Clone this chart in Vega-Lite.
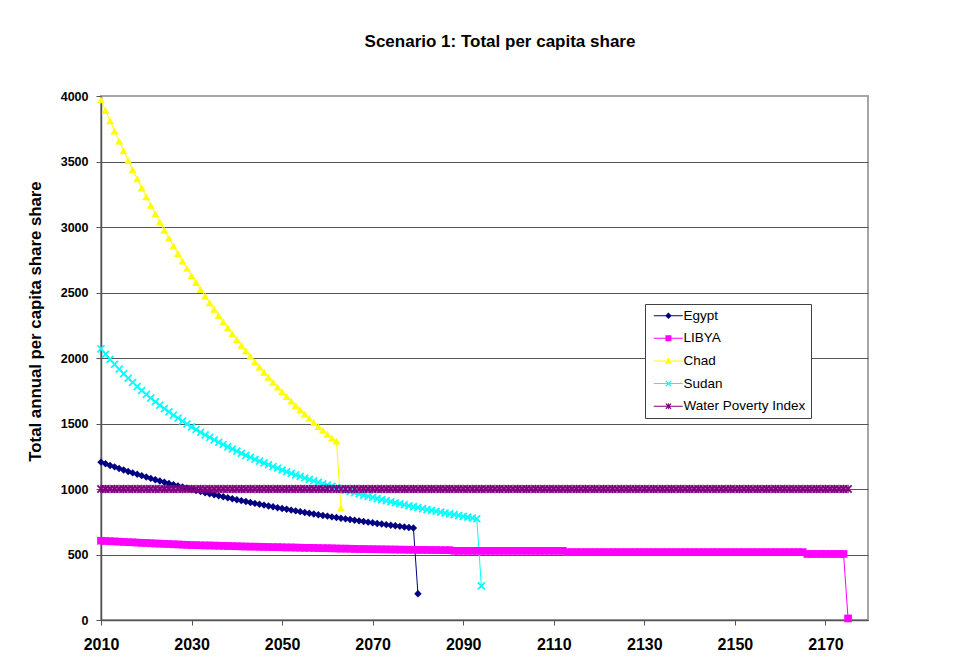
{
  "$schema": "https://vega.github.io/schema/vega-lite/v6.json",
  "width": 767,
  "height": 524,
  "autosize": {"type": "none"},
  "padding": {"left": 101, "top": 96, "right": 108, "bottom": 44},
  "background": "white",
  "title": {"text": "Scenario 1: Total per capita share", "anchor": "middle", "frame": "group", "dx": 15.5, "offset": 26, "baseline": "alphabetic", "font": "Liberation Sans", "fontSize": 17, "fontWeight": "bold", "color": "black"},
  "data": {"values": [
    {"year":2010,"Egypt":1205,"LIBYA":605,"Chad":3970,"Sudan":2070,"WPI":1000},
    {"year":2011,"Egypt":1193,"LIBYA":603,"Chad":3889,"Sudan":2029,"WPI":1000},
    {"year":2012,"Egypt":1180,"LIBYA":601,"Chad":3810,"Sudan":1990,"WPI":1000},
    {"year":2013,"Egypt":1169,"LIBYA":600,"Chad":3732,"Sudan":1952,"WPI":1000},
    {"year":2014,"Egypt":1157,"LIBYA":598,"Chad":3656,"Sudan":1915,"WPI":1000},
    {"year":2015,"Egypt":1145,"LIBYA":596,"Chad":3582,"Sudan":1880,"WPI":1000},
    {"year":2016,"Egypt":1134,"LIBYA":594,"Chad":3508,"Sudan":1846,"WPI":1000},
    {"year":2017,"Egypt":1123,"LIBYA":593,"Chad":3437,"Sudan":1814,"WPI":1000},
    {"year":2018,"Egypt":1112,"LIBYA":591,"Chad":3367,"Sudan":1782,"WPI":1000},
    {"year":2019,"Egypt":1102,"LIBYA":589,"Chad":3298,"Sudan":1752,"WPI":1000},
    {"year":2020,"Egypt":1091,"LIBYA":588,"Chad":3231,"Sudan":1722,"WPI":1000},
    {"year":2021,"Egypt":1081,"LIBYA":586,"Chad":3165,"Sudan":1694,"WPI":1000},
    {"year":2022,"Egypt":1071,"LIBYA":584,"Chad":3101,"Sudan":1666,"WPI":1000},
    {"year":2023,"Egypt":1061,"LIBYA":583,"Chad":3037,"Sudan":1640,"WPI":1000},
    {"year":2024,"Egypt":1052,"LIBYA":581,"Chad":2975,"Sudan":1614,"WPI":1000},
    {"year":2025,"Egypt":1042,"LIBYA":580,"Chad":2915,"Sudan":1589,"WPI":1000},
    {"year":2026,"Egypt":1033,"LIBYA":578,"Chad":2855,"Sudan":1564,"WPI":1000},
    {"year":2027,"Egypt":1024,"LIBYA":577,"Chad":2797,"Sudan":1541,"WPI":1000},
    {"year":2028,"Egypt":1015,"LIBYA":575,"Chad":2740,"Sudan":1518,"WPI":1000},
    {"year":2029,"Egypt":1006,"LIBYA":574,"Chad":2684,"Sudan":1496,"WPI":1000},
    {"year":2030,"Egypt":998,"LIBYA":572,"Chad":2629,"Sudan":1474,"WPI":1000},
    {"year":2031,"Egypt":989,"LIBYA":571,"Chad":2576,"Sudan":1454,"WPI":1000},
    {"year":2032,"Egypt":981,"LIBYA":570,"Chad":2523,"Sudan":1433,"WPI":1000},
    {"year":2033,"Egypt":972,"LIBYA":569,"Chad":2472,"Sudan":1413,"WPI":1000},
    {"year":2034,"Egypt":964,"LIBYA":569,"Chad":2421,"Sudan":1394,"WPI":1000},
    {"year":2035,"Egypt":956,"LIBYA":568,"Chad":2372,"Sudan":1375,"WPI":1000},
    {"year":2036,"Egypt":949,"LIBYA":567,"Chad":2324,"Sudan":1357,"WPI":1000},
    {"year":2037,"Egypt":941,"LIBYA":566,"Chad":2276,"Sudan":1340,"WPI":1000},
    {"year":2038,"Egypt":933,"LIBYA":565,"Chad":2230,"Sudan":1322,"WPI":1000},
    {"year":2039,"Egypt":926,"LIBYA":564,"Chad":2184,"Sudan":1305,"WPI":1000},
    {"year":2040,"Egypt":918,"LIBYA":563,"Chad":2140,"Sudan":1289,"WPI":1000},
    {"year":2041,"Egypt":911,"LIBYA":562,"Chad":2096,"Sudan":1273,"WPI":1000},
    {"year":2042,"Egypt":904,"LIBYA":561,"Chad":2054,"Sudan":1257,"WPI":1000},
    {"year":2043,"Egypt":897,"LIBYA":560,"Chad":2012,"Sudan":1242,"WPI":1000},
    {"year":2044,"Egypt":890,"LIBYA":560,"Chad":1971,"Sudan":1227,"WPI":1000},
    {"year":2045,"Egypt":883,"LIBYA":559,"Chad":1930,"Sudan":1213,"WPI":1000},
    {"year":2046,"Egypt":877,"LIBYA":558,"Chad":1891,"Sudan":1199,"WPI":1000},
    {"year":2047,"Egypt":870,"LIBYA":557,"Chad":1853,"Sudan":1185,"WPI":1000},
    {"year":2048,"Egypt":864,"LIBYA":556,"Chad":1815,"Sudan":1171,"WPI":1000},
    {"year":2049,"Egypt":857,"LIBYA":556,"Chad":1778,"Sudan":1158,"WPI":1000},
    {"year":2050,"Egypt":851,"LIBYA":555,"Chad":1742,"Sudan":1145,"WPI":1000},
    {"year":2051,"Egypt":845,"LIBYA":554,"Chad":1706,"Sudan":1132,"WPI":1000},
    {"year":2052,"Egypt":839,"LIBYA":554,"Chad":1671,"Sudan":1120,"WPI":1000},
    {"year":2053,"Egypt":833,"LIBYA":553,"Chad":1637,"Sudan":1108,"WPI":1000},
    {"year":2054,"Egypt":827,"LIBYA":552,"Chad":1604,"Sudan":1096,"WPI":1000},
    {"year":2055,"Egypt":821,"LIBYA":551,"Chad":1571,"Sudan":1084,"WPI":1000},
    {"year":2056,"Egypt":815,"LIBYA":551,"Chad":1539,"Sudan":1073,"WPI":1000},
    {"year":2057,"Egypt":809,"LIBYA":550,"Chad":1508,"Sudan":1062,"WPI":1000},
    {"year":2058,"Egypt":804,"LIBYA":549,"Chad":1477,"Sudan":1051,"WPI":1000},
    {"year":2059,"Egypt":798,"LIBYA":548,"Chad":1447,"Sudan":1040,"WPI":1000},
    {"year":2060,"Egypt":793,"LIBYA":548,"Chad":1417,"Sudan":1030,"WPI":1000},
    {"year":2061,"Egypt":787,"LIBYA":547,"Chad":1388,"Sudan":1020,"WPI":1000},
    {"year":2062,"Egypt":782,"LIBYA":546,"Chad":1365,"Sudan":1010,"WPI":1000},
    {"year":2063,"Egypt":777,"LIBYA":545,"Chad":855,"Sudan":1000,"WPI":1000},
    {"year":2064,"Egypt":772,"LIBYA":545,"Sudan":990,"WPI":1000},
    {"year":2065,"Egypt":767,"LIBYA":544,"Sudan":981,"WPI":1000},
    {"year":2066,"Egypt":762,"LIBYA":543,"Sudan":971,"WPI":1000},
    {"year":2067,"Egypt":757,"LIBYA":542,"Sudan":962,"WPI":1000},
    {"year":2068,"Egypt":752,"LIBYA":542,"Sudan":953,"WPI":1000},
    {"year":2069,"Egypt":747,"LIBYA":541,"Sudan":944,"WPI":1000},
    {"year":2070,"Egypt":742,"LIBYA":540,"Sudan":936,"WPI":1000},
    {"year":2071,"Egypt":737,"LIBYA":540,"Sudan":927,"WPI":1000},
    {"year":2072,"Egypt":733,"LIBYA":539,"Sudan":919,"WPI":1000},
    {"year":2073,"Egypt":728,"LIBYA":539,"Sudan":911,"WPI":1000},
    {"year":2074,"Egypt":723,"LIBYA":538,"Sudan":903,"WPI":1000},
    {"year":2075,"Egypt":719,"LIBYA":538,"Sudan":895,"WPI":1000},
    {"year":2076,"Egypt":715,"LIBYA":537,"Sudan":887,"WPI":1000},
    {"year":2077,"Egypt":710,"LIBYA":537,"Sudan":880,"WPI":1000},
    {"year":2078,"Egypt":706,"LIBYA":536,"Sudan":872,"WPI":1000},
    {"year":2079,"Egypt":702,"LIBYA":536,"Sudan":865,"WPI":1000},
    {"year":2080,"Egypt":200,"LIBYA":535,"Sudan":858,"WPI":1000},
    {"year":2081,"LIBYA":535,"Sudan":850,"WPI":1000},
    {"year":2082,"LIBYA":535,"Sudan":843,"WPI":1000},
    {"year":2083,"LIBYA":534,"Sudan":837,"WPI":1000},
    {"year":2084,"LIBYA":534,"Sudan":830,"WPI":1000},
    {"year":2085,"LIBYA":533,"Sudan":823,"WPI":1000},
    {"year":2086,"LIBYA":533,"Sudan":817,"WPI":1000},
    {"year":2087,"LIBYA":533,"Sudan":810,"WPI":1000},
    {"year":2088,"LIBYA":528,"Sudan":804,"WPI":1000},
    {"year":2089,"LIBYA":528,"Sudan":797,"WPI":1000},
    {"year":2090,"LIBYA":528,"Sudan":791,"WPI":1000},
    {"year":2091,"LIBYA":528,"Sudan":785,"WPI":1000},
    {"year":2092,"LIBYA":528,"Sudan":779,"WPI":1000},
    {"year":2093,"LIBYA":528,"Sudan":773,"WPI":1000},
    {"year":2094,"LIBYA":528,"Sudan":260,"WPI":1000},
    {"year":2095,"LIBYA":528,"WPI":1000},
    {"year":2096,"LIBYA":528,"WPI":1000},
    {"year":2097,"LIBYA":528,"WPI":1000},
    {"year":2098,"LIBYA":528,"WPI":1000},
    {"year":2099,"LIBYA":528,"WPI":1000},
    {"year":2100,"LIBYA":528,"WPI":1000},
    {"year":2101,"LIBYA":528,"WPI":1000},
    {"year":2102,"LIBYA":528,"WPI":1000},
    {"year":2103,"LIBYA":528,"WPI":1000},
    {"year":2104,"LIBYA":528,"WPI":1000},
    {"year":2105,"LIBYA":528,"WPI":1000},
    {"year":2106,"LIBYA":528,"WPI":1000},
    {"year":2107,"LIBYA":528,"WPI":1000},
    {"year":2108,"LIBYA":528,"WPI":1000},
    {"year":2109,"LIBYA":528,"WPI":1000},
    {"year":2110,"LIBYA":528,"WPI":1000},
    {"year":2111,"LIBYA":528,"WPI":1000},
    {"year":2112,"LIBYA":528,"WPI":1000},
    {"year":2113,"LIBYA":518,"WPI":1000},
    {"year":2114,"LIBYA":518,"WPI":1000},
    {"year":2115,"LIBYA":518,"WPI":1000},
    {"year":2116,"LIBYA":518,"WPI":1000},
    {"year":2117,"LIBYA":518,"WPI":1000},
    {"year":2118,"LIBYA":518,"WPI":1000},
    {"year":2119,"LIBYA":518,"WPI":1000},
    {"year":2120,"LIBYA":518,"WPI":1000},
    {"year":2121,"LIBYA":518,"WPI":1000},
    {"year":2122,"LIBYA":518,"WPI":1000},
    {"year":2123,"LIBYA":518,"WPI":1000},
    {"year":2124,"LIBYA":518,"WPI":1000},
    {"year":2125,"LIBYA":518,"WPI":1000},
    {"year":2126,"LIBYA":518,"WPI":1000},
    {"year":2127,"LIBYA":518,"WPI":1000},
    {"year":2128,"LIBYA":518,"WPI":1000},
    {"year":2129,"LIBYA":518,"WPI":1000},
    {"year":2130,"LIBYA":518,"WPI":1000},
    {"year":2131,"LIBYA":518,"WPI":1000},
    {"year":2132,"LIBYA":518,"WPI":1000},
    {"year":2133,"LIBYA":518,"WPI":1000},
    {"year":2134,"LIBYA":518,"WPI":1000},
    {"year":2135,"LIBYA":518,"WPI":1000},
    {"year":2136,"LIBYA":518,"WPI":1000},
    {"year":2137,"LIBYA":518,"WPI":1000},
    {"year":2138,"LIBYA":518,"WPI":1000},
    {"year":2139,"LIBYA":518,"WPI":1000},
    {"year":2140,"LIBYA":518,"WPI":1000},
    {"year":2141,"LIBYA":518,"WPI":1000},
    {"year":2142,"LIBYA":518,"WPI":1000},
    {"year":2143,"LIBYA":518,"WPI":1000},
    {"year":2144,"LIBYA":518,"WPI":1000},
    {"year":2145,"LIBYA":518,"WPI":1000},
    {"year":2146,"LIBYA":518,"WPI":1000},
    {"year":2147,"LIBYA":518,"WPI":1000},
    {"year":2148,"LIBYA":518,"WPI":1000},
    {"year":2149,"LIBYA":518,"WPI":1000},
    {"year":2150,"LIBYA":518,"WPI":1000},
    {"year":2151,"LIBYA":518,"WPI":1000},
    {"year":2152,"LIBYA":518,"WPI":1000},
    {"year":2153,"LIBYA":518,"WPI":1000},
    {"year":2154,"LIBYA":518,"WPI":1000},
    {"year":2155,"LIBYA":518,"WPI":1000},
    {"year":2156,"LIBYA":518,"WPI":1000},
    {"year":2157,"LIBYA":518,"WPI":1000},
    {"year":2158,"LIBYA":518,"WPI":1000},
    {"year":2159,"LIBYA":518,"WPI":1000},
    {"year":2160,"LIBYA":518,"WPI":1000},
    {"year":2161,"LIBYA":518,"WPI":1000},
    {"year":2162,"LIBYA":518,"WPI":1000},
    {"year":2163,"LIBYA":518,"WPI":1000},
    {"year":2164,"LIBYA":518,"WPI":1000},
    {"year":2165,"LIBYA":518,"WPI":1000},
    {"year":2166,"LIBYA":504,"WPI":1000},
    {"year":2167,"LIBYA":504,"WPI":1000},
    {"year":2168,"LIBYA":504,"WPI":1000},
    {"year":2169,"LIBYA":504,"WPI":1000},
    {"year":2170,"LIBYA":504,"WPI":1000},
    {"year":2171,"LIBYA":504,"WPI":1000},
    {"year":2172,"LIBYA":504,"WPI":1000},
    {"year":2173,"LIBYA":504,"WPI":1000},
    {"year":2174,"LIBYA":504,"WPI":1000},
    {"year":2175,"LIBYA":12,"WPI":1000}
  ]},
  "transform": [
    {"fold": ["Egypt", "LIBYA", "Chad", "Sudan", "WPI"], "as": ["series", "value"]},
    {"filter": "isValid(datum.value)"}
  ],
  "encoding": {
    "x": {"field": "year", "type": "quantitative",
      "scale": {"domain": [2010, 2179.4], "nice": false, "zero": false},
      "axis": {"values": [2010, 2030, 2050, 2070, 2090, 2110, 2130, 2150, 2170], "format": "d", "title": null, "grid": false,
        "labelFont": "Liberation Sans", "labelFontSize": 16, "labelFontWeight": "bold", "labelColor": "black", "labelPadding": 11,
        "labelFlush": false, "labelOverlap": false, "tickSize": 5, "tickColor": "#555555", "domainColor": "#555555", "domainWidth": 1.5}},
    "y": {"field": "value", "type": "quantitative",
      "scale": {"domain": [0, 4000], "nice": false},
      "axis": {"values": [0, 500, 1000, 1500, 2000, 2500, 3000, 3500, 4000], "format": "d",
        "title": "Total annual per capita share share", "titleFont": "Liberation Sans", "titleFontSize": 16.8, "titleFontWeight": "bold", "titleColor": "black",
        "titleX": -66, "titleY": 225, "titleAngle": -90, "titleAlign": "center", "titleBaseline": "middle",
        "labelFont": "Liberation Sans", "labelFontSize": 12.5, "labelFontWeight": "bold", "labelColor": "black", "labelPadding": 8,
        "tickSize": 5, "tickColor": "#555555", "domainColor": "#555555", "domainWidth": 1.5,
        "grid": true, "gridColor": {"condition": {"test": "datum.value === 4000", "value": "#a6a6a6"}, "value": "#555555"}, "gridWidth": 1}}
  },
  "layer": [
    {"mark": {"type": "line", "strokeWidth": 1},
      "encoding": {
        "color": {"field": "series", "type": "nominal",
          "scale": {"domain": ["Egypt", "LIBYA", "Chad", "Sudan", "WPI"], "range": ["#000080", "#FF00FF", "#FFFF00", "#00FFFF", "#800080"]},
          "legend": null}
      }},
    {"mark": {"type": "point", "filled": true, "opacity": 1, "strokeWidth": 0},
      "encoding": {
        "color": {"field": "series", "type": "nominal",
          "scale": {"domain": ["Egypt", "LIBYA", "Chad", "Sudan", "WPI"], "range": ["#000080", "#FF00FF", "#FFFF00", "#00FFFF", "#800080"]},
          "legend": null},
        "shape": {"field": "series", "type": "nominal",
          "scale": {"domain": ["Egypt", "LIBYA", "Chad", "Sudan", "WPI"],
            "range": ["diamond", "square", "triangle-up", "M-1,-0.7L-0.7,-1L0,-0.3L0.7,-1L1,-0.7L0.3,0L1,0.7L0.7,1L0,0.3L-0.7,1L-1,0.7L-0.3,0Z", "M-1,-0.7L-0.7,-1L0,-0.3L0.7,-1L1,-0.7L0.3,0L1,0.7L0.7,1L0,0.3L-0.7,1L-1,0.7L-0.3,0Z M-0.15,-1L0.15,-1L0.15,1L-0.15,1Z"]},
          "legend": null},
        "size": {"field": "series", "type": "nominal",
          "scale": {"domain": ["Egypt", "LIBYA", "Chad", "Sudan", "WPI"], "range": [55, 70, 60, 50, 45]},
          "legend": null},
        "order": {"field": "series", "type": "ordinal"}
      }},
    {"mark": {"type": "point", "filled": true, "opacity": 0, "size": 100, "strokeWidth": 0},
      "encoding": {
        "color": {"field": "series", "type": "nominal",
          "scale": {"domain": ["Egypt", "LIBYA", "Chad", "Sudan", "WPI"], "range": ["#000080", "#FF00FF", "#FFFF00", "#00FFFF", "#800080"]},
          "legend": {"orient": "none", "legendX": 544, "legendY": 208, "title": null,
            "labelFont": "Liberation Sans", "labelFontSize": 13.5, "labelColor": "black",
            "labelExpr": "datum.label == 'WPI' ? 'Water Poverty Index' : datum.label",
            "padding": 5, "rowPadding": 7.6, "strokeColor": "#404040", "fillColor": "white",
            "symbolSize": 100, "symbolStrokeWidth": 0, "symbolOpacity": 1, "labelOffset": 20}},
        "shape": {"field": "series", "type": "nominal",
          "scale": {"domain": ["Egypt", "LIBYA", "Chad", "Sudan", "WPI"],
            "range": [
              "M-0.6,-0.1L5.2,-0.1L5.2,0.1L-0.6,0.1Z M2.34,-0.66L3,0L2.34,0.66L1.68,0Z",
              "M-0.6,-0.1L5.2,-0.1L5.2,0.1L-0.6,0.1Z M1.74,-0.6L2.94,-0.6L2.94,0.6L1.74,0.6Z",
              "M-0.6,-0.1L5.2,-0.1L5.2,0.1L-0.6,0.1Z M2.34,-0.7L3.04,0.55L1.64,0.55Z",
              "M-0.6,-0.1L5.2,-0.1L5.2,0.1L-0.6,0.1Z M1.74,-0.42L1.92,-0.6L2.34,-0.18L2.76,-0.6L2.94,-0.42L2.52,0L2.94,0.42L2.76,0.6L2.34,0.18L1.92,0.6L1.74,0.42L2.16,0Z",
              "M-0.6,-0.1L5.2,-0.1L5.2,0.1L-0.6,0.1Z M1.74,-0.42L1.92,-0.6L2.34,-0.18L2.76,-0.6L2.94,-0.42L2.52,0L2.94,0.42L2.76,0.6L2.34,0.18L1.92,0.6L1.74,0.42L2.16,0Z M2.25,-0.6L2.43,-0.6L2.43,0.6L2.25,0.6Z"]},
          "legend": {"orient": "none", "legendX": 544, "legendY": 208, "title": null,
            "labelFont": "Liberation Sans", "labelFontSize": 13.5, "labelColor": "black",
            "labelExpr": "datum.label == 'WPI' ? 'Water Poverty Index' : datum.label",
            "padding": 5, "rowPadding": 7.6, "strokeColor": "#404040", "fillColor": "white",
            "symbolSize": 100, "symbolStrokeWidth": 0, "symbolOpacity": 1, "labelOffset": 20}}
      }}
  ],
  "resolve": {"scale": {"shape": "independent", "color": "independent"}},
  "config": {"view": {"stroke": "#a6a6a6", "strokeWidth": 2}}
}
